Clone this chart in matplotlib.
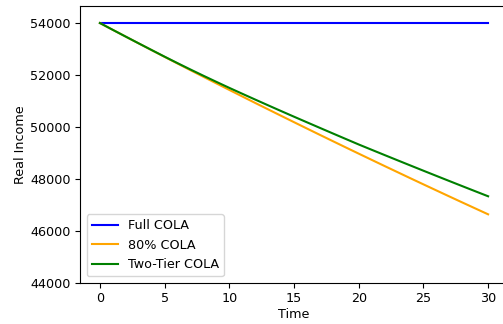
import matplotlib
matplotlib.use("Agg")
import matplotlib.pyplot as plt

plt.rcParams["font.size"] = 9.2

# real income per year under each COLA scheme
years = list(range(31))
full_cola = [54000] * 31
cola_80 = [54000, 53737, 53475, 53214, 52955, 52696, 52439, 52183, 51929, 51676,
           51424, 51173, 50923, 50675, 50428, 50182, 49937, 49693, 49451, 49210,
           48970, 48731, 48493, 48257, 48021, 47787, 47554, 47322, 47091, 46862,
           46633]
two_tier = [54000, 53737, 53476, 53217, 52960, 52705, 52455, 52210, 51970, 51735,
            51503, 51277, 51053, 50831, 50611, 50393, 50177, 49962, 49748, 49535,
            49323, 49119, 48916, 48714, 48513, 48313, 48114, 47916, 47719, 47523,
            47328]

fig = plt.figure(figsize=(5.03, 3.24), dpi=100)
ax = fig.add_axes([0.160, 0.1275, 0.849, 0.8535])

ax.plot(years, full_cola, color="blue", label="Full COLA")
ax.plot(years, cola_80, color="orange", label="80% COLA")
ax.plot(years, two_tier, color="green", label="Two-Tier COLA")

ax.set_ylim(44000, 54650)
ax.set_xlabel("Time", labelpad=2)
ax.set_ylabel("Real Income", labelpad=2)
ax.legend(loc="lower left")

fig.savefig("out.png", dpi=100)
